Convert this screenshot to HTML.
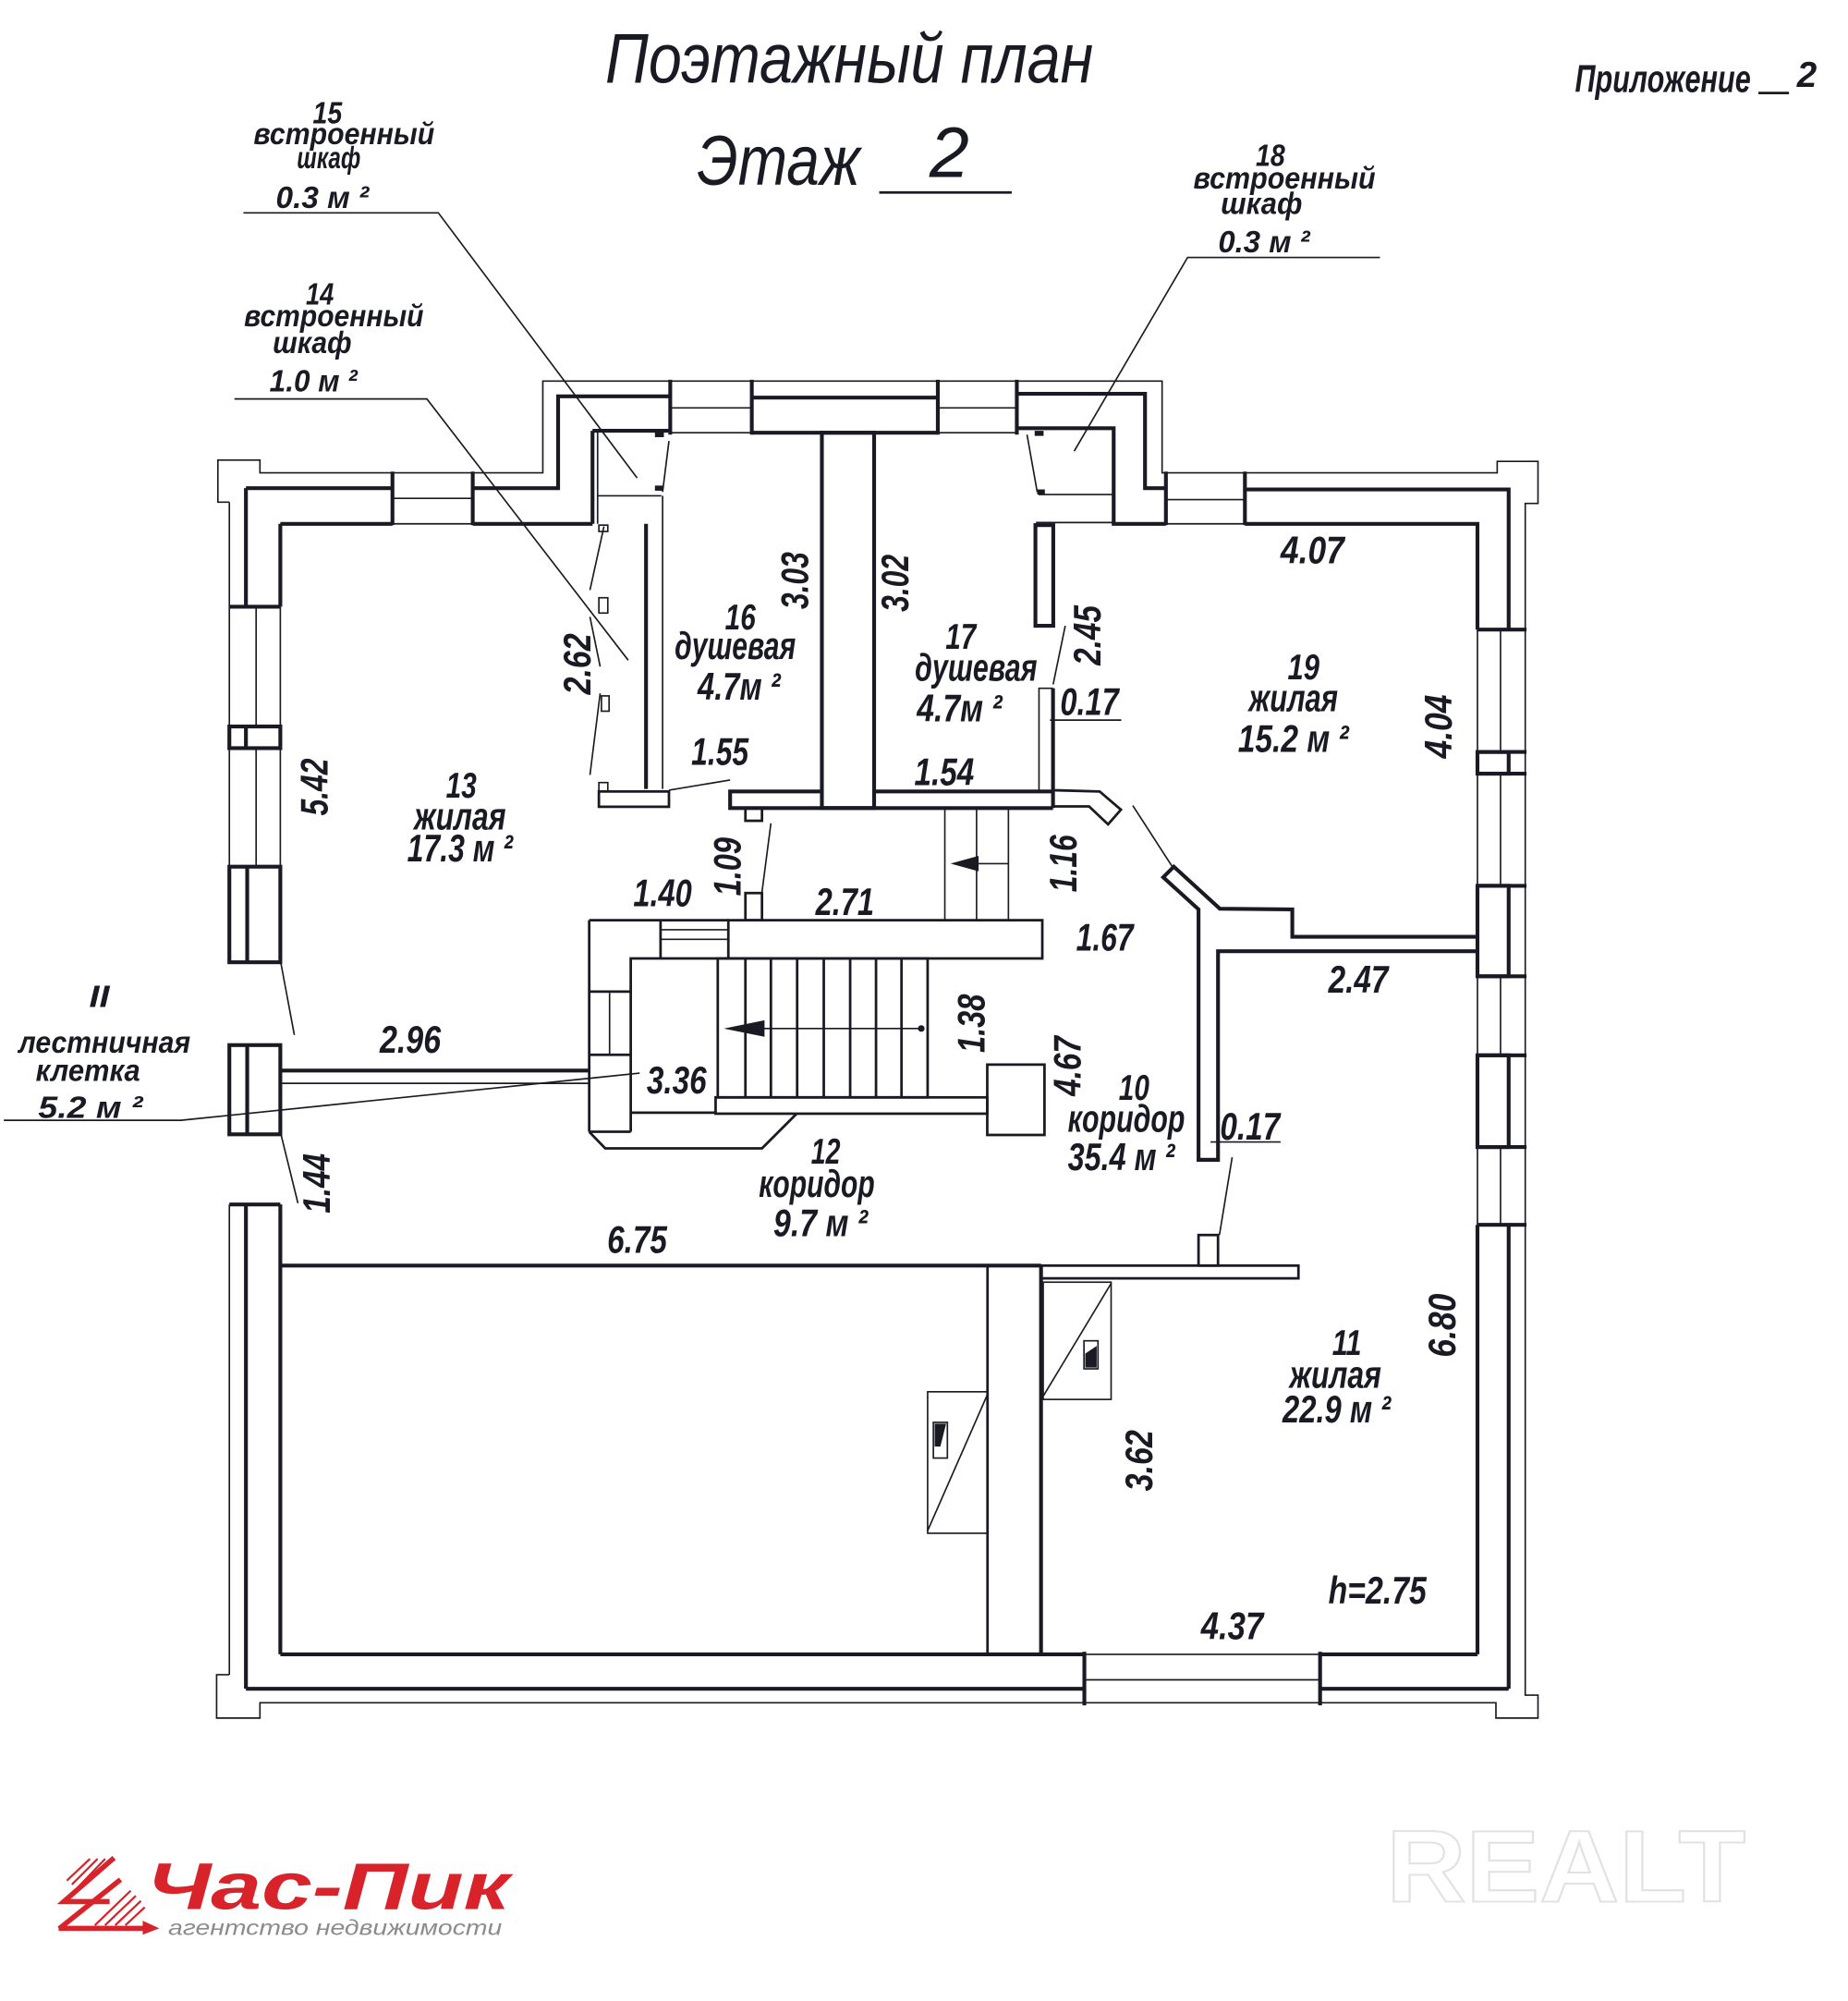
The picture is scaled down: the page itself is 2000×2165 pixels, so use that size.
<!DOCTYPE html>
<html><head><meta charset="utf-8">
<style>
html,body{margin:0;padding:0;background:#fff;}
svg{display:block;}
text{font-family:"Liberation Sans","DejaVu Sans",sans-serif;font-style:italic;fill:#1a1a24;}
.k{stroke:#1a1a24;stroke-width:3;fill:none;}
.t{stroke:#1a1a24;stroke-width:1.2;fill:none;}
.m{stroke:#1a1a24;stroke-width:2;fill:none;}
.b{font-weight:bold;}
.d{font-weight:bold;font-size:30px;}
.n{font-weight:bold;font-size:28px;}
.l{font-weight:bold;font-size:24px;}
</style></head><body>
<svg width="2000" height="2165" viewBox="0 0 1450.3 1570" preserveAspectRatio="none">
<rect x="0" y="0" width="1450.3" height="1570" fill="#fff"/>

<!-- ===== TITLE ===== -->
<text x="475" y="65" font-size="55" textLength="383" lengthAdjust="spacingAndGlyphs">Поэтажный план</text>
<text x="547" y="145" font-size="55" textLength="128" lengthAdjust="spacingAndGlyphs">Этаж</text>
<text x="745" y="139" font-size="56" text-anchor="middle">2</text>
<line x1="690" y1="151" x2="794" y2="151" stroke="#1a1a24" stroke-width="2"/>
<text x="1236" y="72" font-size="30" class="b" textLength="138" lengthAdjust="spacingAndGlyphs">Приложение</text>
<line x1="1380" y1="73" x2="1404" y2="73" stroke="#1a1a24" stroke-width="2"/>
<text x="1418" y="68" font-size="28" class="b" text-anchor="middle">2</text>

<!-- ===== CALLOUT LABELS ===== -->
<g>
<text x="257" y="97" class="l" text-anchor="middle" textLength="23" lengthAdjust="spacingAndGlyphs">15</text>
<text x="270" y="113" class="l" text-anchor="middle" textLength="142" lengthAdjust="spacingAndGlyphs">встроенный</text>
<text x="258" y="132" class="l" text-anchor="middle" textLength="50" lengthAdjust="spacingAndGlyphs">шкаф</text>
<text x="253" y="163" class="l" text-anchor="middle" textLength="73" lengthAdjust="spacingAndGlyphs">0.3 м ²</text>

<text x="251" y="239" class="l" text-anchor="middle" textLength="22" lengthAdjust="spacingAndGlyphs">14</text>
<text x="262" y="256" class="l" text-anchor="middle" textLength="141" lengthAdjust="spacingAndGlyphs">встроенный</text>
<text x="245" y="277" class="l" text-anchor="middle" textLength="62" lengthAdjust="spacingAndGlyphs">шкаф</text>
<text x="246" y="307" class="l" text-anchor="middle" textLength="69" lengthAdjust="spacingAndGlyphs">1.0 м ²</text>

<text x="997" y="130" class="l" text-anchor="middle" textLength="23" lengthAdjust="spacingAndGlyphs">18</text>
<text x="1008" y="148" class="l" text-anchor="middle" textLength="143" lengthAdjust="spacingAndGlyphs">встроенный</text>
<text x="990" y="168" class="l" text-anchor="middle" textLength="64" lengthAdjust="spacingAndGlyphs">шкаф</text>
<text x="992" y="198" class="l" text-anchor="middle" textLength="72" lengthAdjust="spacingAndGlyphs">0.3 м ²</text>

<text x="78" y="790" class="l" text-anchor="middle" textLength="16" lengthAdjust="spacingAndGlyphs">II</text>
<text x="82" y="826" class="l" text-anchor="middle" textLength="135" lengthAdjust="spacingAndGlyphs">лестничная</text>
<text x="69" y="848" class="l" text-anchor="middle" textLength="82" lengthAdjust="spacingAndGlyphs">клетка</text>
<text x="71" y="877" class="l" text-anchor="middle" textLength="82" lengthAdjust="spacingAndGlyphs">5.2   м ²</text>
</g>

<!-- leaders -->
<polyline class="t" points="191,167 344,167 500,375"/>
<polyline class="t" points="184,313 335,313 493,518"/>
<polyline class="t" points="1083,202 932,202 843,354"/>
<polyline class="t" points="3,879 142,879 502,842"/>

<!-- ===== OUTER WALLS ===== -->
<polyline class="t" points="180,394 171,394 171,361 204,361 204,371 308,371"/>
<polyline class="t" points="308,371 426,371 426,299 912,299 912,371 1175,371 1175,362 1207,362 1207,395 1197,395 1197,1330 1207,1330 1207,1348 1174,1348 1174,1336 204,1336 204,1348 170,1348 170,1314 180,1314"/>
<line class="t" x1="180" y1="394" x2="180" y2="755"/>
<line class="t" x1="180" y1="820" x2="180" y2="890"/>
<line class="t" x1="180" y1="945" x2="180" y2="1314"/>

<!-- top-left wall -->
<line class="k" x1="193" y1="383" x2="308" y2="383"/>
<line class="k" x1="220" y1="411" x2="308" y2="411"/>
<line class="k" x1="308" y1="370" x2="308" y2="412"/>
<line class="k" x1="371" y1="370" x2="371" y2="412"/>
<line class="t" x1="308" y1="391" x2="371" y2="391"/>
<line class="t" x1="308" y1="411" x2="371" y2="411"/>
<polyline class="k" points="371,383 438,383 438,311 526,311"/>
<line class="k" x1="371" y1="411" x2="465" y2="411"/>
<line class="k" x1="465" y1="338" x2="465" y2="411"/>
<line class="t" x1="469" y1="338" x2="469" y2="411"/>
<line class="k" x1="465" y1="338" x2="526" y2="338"/>
<line class="t" x1="469" y1="389" x2="519" y2="389"/>
<line class="t" x1="525" y1="346" x2="520" y2="386"/>
<rect x="514" y="339" width="7" height="4" fill="#1a1a24"/>
<rect x="514" y="381" width="6" height="4" fill="#1a1a24"/>

<!-- top projection windows / wall -->
<line class="k" x1="526" y1="298" x2="526" y2="341"/>
<line class="k" x1="590" y1="298" x2="590" y2="341"/>
<line class="t" x1="526" y1="320" x2="590" y2="320"/>
<line class="t" x1="526" y1="339.5" x2="590" y2="339.5"/>
<line class="k" x1="590" y1="312" x2="736" y2="312"/>
<line class="k" x1="590" y1="339.5" x2="736" y2="339.5"/>
<line class="k" x1="736" y1="298" x2="736" y2="341"/>
<line class="k" x1="798" y1="298" x2="798" y2="341"/>
<line class="t" x1="736" y1="320" x2="798" y2="320"/>
<line class="t" x1="736" y1="339.5" x2="798" y2="339.5"/>
<polyline class="k" points="798,309 898.6,309 898.6,383 915,383"/>
<polyline class="k" points="798,336 874,336 874,411 915,411"/>
<line class="t" x1="815" y1="388" x2="874" y2="388"/>
<line class="t" x1="813" y1="410" x2="874" y2="410"/>
<line class="t" x1="806" y1="341" x2="814" y2="386"/>
<rect x="812" y="338" width="7" height="4" fill="#1a1a24"/>
<rect x="814" y="384" width="6" height="4" fill="#1a1a24"/>

<!-- top-right window -->
<line class="k" x1="915" y1="370" x2="915" y2="412"/>
<line class="k" x1="977" y1="370" x2="977" y2="412"/>
<line class="t" x1="915" y1="392" x2="977" y2="392"/>
<line class="t" x1="915" y1="411" x2="977" y2="411"/>
<polyline class="k" points="977,384 1184,384 1184,494"/>
<polyline class="k" points="977,411 1159.5,411 1159.5,494"/>

<!-- right wall -->
<line class="t" x1="1159.5" y1="494" x2="1159.5" y2="590"/>
<line class="t" x1="1177.6" y1="494" x2="1177.6" y2="590"/>
<rect class="k" x="1159.5" y="590" width="24.5" height="17"/>
<line class="t" x1="1159.5" y1="607" x2="1159.5" y2="695"/>
<line class="t" x1="1177.6" y1="607" x2="1177.6" y2="695"/>
<rect class="k" x="1159.5" y="695" width="24.5" height="71"/>
<line class="t" x1="1159.5" y1="766" x2="1159.5" y2="828"/>
<line class="t" x1="1177.6" y1="766" x2="1177.6" y2="828"/>
<rect class="k" x="1159.5" y="828" width="24.5" height="72"/>
<line class="t" x1="1159.5" y1="900" x2="1159.5" y2="961"/>
<line class="t" x1="1177.6" y1="900" x2="1177.6" y2="961"/>
<line class="k" x1="1159.5" y1="961" x2="1159.5" y2="1298"/>
<line class="k" x1="1184" y1="961" x2="1184" y2="1325"/>
<g class="k">
<line x1="1159.5" y1="494" x2="1198" y2="494"/>
<line x1="1159.5" y1="590" x2="1198" y2="590"/>
<line x1="1159.5" y1="607" x2="1198" y2="607"/>
<line x1="1159.5" y1="695" x2="1198" y2="695"/>
<line x1="1159.5" y1="766" x2="1198" y2="766"/>
<line x1="1159.5" y1="828" x2="1198" y2="828"/>
<line x1="1159.5" y1="900" x2="1198" y2="900"/>
<line x1="1159.5" y1="961" x2="1198" y2="961"/>
</g>

<!-- left wall -->
<line class="k" x1="193" y1="383" x2="193" y2="476"/>
<line class="k" x1="220" y1="411" x2="220" y2="476"/>
<line class="t" x1="201" y1="476" x2="201" y2="570"/>
<line class="t" x1="220" y1="476" x2="220" y2="570"/>
<rect class="k" x="180" y="570" width="40" height="17"/>
<line class="k" x1="193" y1="570" x2="193" y2="587"/>
<line class="t" x1="201" y1="587" x2="201" y2="680"/>
<line class="t" x1="220" y1="587" x2="220" y2="680"/>
<rect class="k" x="180" y="680" width="40" height="75"/>
<line class="k" x1="194" y1="680" x2="194" y2="755"/>
<rect class="k" x="180" y="820" width="40" height="70"/>
<line class="k" x1="194" y1="820" x2="194" y2="890"/>
<line class="k" x1="180" y1="476" x2="220" y2="476"/>
<line class="k" x1="180" y1="945" x2="220" y2="945"/>
<line class="k" x1="193" y1="945" x2="193" y2="1325"/>
<line class="k" x1="220" y1="945" x2="220" y2="1298"/>
<line class="t" x1="220.5" y1="756" x2="231" y2="812"/>
<line class="t" x1="220.5" y1="890" x2="233.8" y2="944"/>

<!-- bottom wall -->
<line class="k" x1="220" y1="1298" x2="851" y2="1298"/>
<line class="k" x1="1036" y1="1298" x2="1159.5" y2="1298"/>
<line class="k" x1="193" y1="1325" x2="851" y2="1325"/>
<line class="k" x1="1036" y1="1325" x2="1184" y2="1325"/>
<line class="t" x1="851" y1="1298" x2="1036" y2="1298"/>
<line class="t" x1="851" y1="1318" x2="1036" y2="1318"/>
<line class="k" x1="851" y1="1296" x2="851" y2="1338"/>
<line class="k" x1="1036" y1="1296" x2="1036" y2="1338"/>

<!-- ===== INTERIOR ===== -->
<line class="k" x1="507" y1="411" x2="507" y2="619"/>
<line class="t" x1="520" y1="389" x2="520" y2="619"/>
<rect class="m" x="470" y="621" width="55" height="12"/>
<rect class="t" x="470" y="614" width="7" height="7"/>
<line class="t" x1="474" y1="413" x2="463" y2="463"/>
<line class="t" x1="463" y1="484" x2="471" y2="523"/>
<line class="t" x1="471" y1="544" x2="463" y2="608"/>
<rect class="t" x="470" y="469" width="7" height="12"/>
<rect class="t" x="472" y="546" width="6" height="12"/>
<rect class="t" x="470" y="412" width="7" height="5"/>
<line class="t" x1="525" y1="620" x2="573" y2="612"/>

<rect class="k" x="645" y="339.5" width="41" height="294.5"/>
<polyline class="k" points="645,621 573,621 573,634 826.4,634"/>
<line class="k" x1="686" y1="621" x2="826.4" y2="621"/>

<rect class="k" x="812.6" y="412" width="14" height="79"/>
<polyline class="t" points="815.4,621 815.4,540 826.4,540"/>
<line class="k" x1="826.4" y1="540" x2="826.4" y2="634"/>
<line class="t" x1="836" y1="491" x2="826.5" y2="537"/>
<line class="t" x1="824" y1="565" x2="880" y2="565"/>
<polyline class="m" points="826.4,620 863,621 879.7,635.3 869.6,646.8 854.7,632.7 826.4,632.7"/>
<line class="t" x1="889" y1="632" x2="920" y2="680"/>

<polyline class="k" points="1159.5,735 1014.2,735 1014.2,713.5 957.3,713 921.2,680 912.9,688.3 940.6,713.5 940.6,910 955.9,910 955.9,746.3 1159.5,746.3"/>
<line class="t" x1="950" y1="896" x2="1005" y2="896"/>
<line class="t" x1="967" y1="908" x2="957" y2="969"/>
<rect class="m" x="940.6" y="969" width="15.3" height="24"/>

<rect class="m" x="817" y="993" width="202" height="10"/>
<line class="k" x1="220" y1="993" x2="817" y2="993"/>
<line class="m" x1="775" y1="993" x2="775" y2="1298"/>
<line class="k" x1="817" y1="993" x2="817" y2="1298"/>

<rect class="t" x="728" y="1092" width="47" height="111"/>
<line class="t" x1="775" y1="1094" x2="728" y2="1201"/>
<rect class="t" x="732.5" y="1116" width="11" height="28"/>
<polygon points="733.5,1117 742.5,1117 738,1135 733.5,1135" fill="#1a1a24"/>
<rect class="t" x="818.7" y="1006" width="53.3" height="92"/>
<line class="t" x1="872" y1="1007" x2="819" y2="1095"/>
<rect class="t" x="850.7" y="1052" width="11" height="22"/>
<polygon points="851.7,1062 860.7,1056 860.7,1073 851.7,1073" fill="#1a1a24"/>

<line class="t" x1="741.5" y1="634" x2="741.5" y2="722"/>
<line class="t" x1="766.4" y1="634" x2="766.4" y2="722"/>
<line class="t" x1="791.4" y1="634" x2="791.4" y2="722"/>
<line class="t" x1="768" y1="677.6" x2="791.4" y2="677.6"/>
<polygon points="746,677.6 768,671.5 768,683.7" fill="#1a1a24"/>

<rect class="m" x="585" y="634" width="13" height="10"/>
<rect class="m" x="585" y="700.7" width="13" height="21.3"/>
<line class="t" x1="605" y1="646" x2="598" y2="700"/>

<rect class="m" x="571.6" y="722" width="246.4" height="30"/>
<line class="m" x1="462.4" y1="722" x2="571.6" y2="722"/>
<line class="m" x1="462.4" y1="722" x2="462.4" y2="888"/>
<line class="m" x1="518.4" y1="722" x2="518.4" y2="752"/>
<line class="t" x1="518.4" y1="729.5" x2="571.6" y2="729.5"/>
<line class="t" x1="518.4" y1="737" x2="571.6" y2="737"/>
<polyline class="m" points="571.6,752 495,752 495,888"/>
<line class="m" x1="462.4" y1="778" x2="495" y2="778"/>
<line class="t" x1="478.4" y1="779" x2="478.4" y2="827"/>
<line class="m" x1="462.4" y1="827.6" x2="495" y2="827.6"/>
<line class="m" x1="462.4" y1="888" x2="495" y2="888"/>
<polyline class="m" points="462.4,888 475,901 598,901 625,874"/>
<line class="m" x1="495" y1="873" x2="561.6" y2="873"/>
<line class="k" x1="220" y1="840" x2="462.4" y2="840"/>
<line class="t" x1="220" y1="850" x2="462.4" y2="850"/>

<rect class="m" x="563.3" y="752" width="164.7" height="109"/>
<g class="m">
<line x1="585" y1="752" x2="585" y2="861"/>
<line x1="605" y1="752" x2="605" y2="861"/>
<line x1="625.6" y1="752" x2="625.6" y2="861"/>
<line x1="646.5" y1="752" x2="646.5" y2="861"/>
<line x1="667.2" y1="752" x2="667.2" y2="861"/>
<line x1="687.5" y1="752" x2="687.5" y2="861"/>
<line x1="707.5" y1="752" x2="707.5" y2="861"/>
</g>
<line class="t" x1="590" y1="807" x2="723" y2="807"/>
<circle cx="723" cy="807" r="2.6" fill="#1a1a24"/>
<polygon points="568,807 600,800.5 600,813.5" fill="#1a1a24"/>
<rect class="m" x="561.6" y="861" width="213.2" height="12.8"/>
<rect class="m" x="774.8" y="835.3" width="44.9" height="55.2"/>

<!-- ===== ROOM TEXT ===== -->
<g>
<text x="362" y="626" class="n" text-anchor="middle" textLength="24" lengthAdjust="spacingAndGlyphs">13</text>
<text x="361" y="651" class="d" text-anchor="middle" textLength="72" lengthAdjust="spacingAndGlyphs">жилая</text>
<text x="361" y="676" class="d" text-anchor="middle" textLength="83" lengthAdjust="spacingAndGlyphs">17.3 м ²</text>

<text x="581" y="494" class="n" text-anchor="middle" textLength="24" lengthAdjust="spacingAndGlyphs">16</text>
<text x="577" y="517" class="d" text-anchor="middle" textLength="95" lengthAdjust="spacingAndGlyphs">душевая</text>
<text x="580" y="549" class="d" text-anchor="middle" textLength="65" lengthAdjust="spacingAndGlyphs">4.7м ²</text>

<text x="754" y="509" class="n" text-anchor="middle" textLength="24" lengthAdjust="spacingAndGlyphs">17</text>
<text x="766" y="534" class="d" text-anchor="middle" textLength="96" lengthAdjust="spacingAndGlyphs">душевая</text>
<text x="753" y="566" class="d" text-anchor="middle" textLength="67" lengthAdjust="spacingAndGlyphs">4.7м ²</text>
<text x="741" y="616" class="d" text-anchor="middle" textLength="47" lengthAdjust="spacingAndGlyphs">1.54</text>
<text x="565" y="600" class="d" text-anchor="middle" textLength="45" lengthAdjust="spacingAndGlyphs">1.55</text>

<text x="1030" y="442" class="d" text-anchor="middle" textLength="50" lengthAdjust="spacingAndGlyphs">4.07</text>
<text x="1023" y="533" class="n" text-anchor="middle" textLength="25" lengthAdjust="spacingAndGlyphs">19</text>
<text x="1015" y="558" class="d" text-anchor="middle" textLength="70" lengthAdjust="spacingAndGlyphs">жилая</text>
<text x="1015" y="590" class="d" text-anchor="middle" textLength="87" lengthAdjust="spacingAndGlyphs">15.2 м ²</text>
<text x="855" y="561" class="d" text-anchor="middle" textLength="46" lengthAdjust="spacingAndGlyphs">0.17</text>

<text x="520" y="711" class="d" text-anchor="middle" textLength="46" lengthAdjust="spacingAndGlyphs">1.40</text>
<text x="663" y="718" class="d" text-anchor="middle" textLength="46" lengthAdjust="spacingAndGlyphs">2.71</text>
<text x="867" y="746" class="d" text-anchor="middle" textLength="45" lengthAdjust="spacingAndGlyphs">1.67</text>
<text x="531" y="858" class="d" text-anchor="middle" textLength="47" lengthAdjust="spacingAndGlyphs">3.36</text>
<text x="322" y="826" class="d" text-anchor="middle" textLength="48" lengthAdjust="spacingAndGlyphs">2.96</text>

<text x="890" y="863" class="n" text-anchor="middle" textLength="24" lengthAdjust="spacingAndGlyphs">10</text>
<text x="884" y="888" class="d" text-anchor="middle" textLength="92" lengthAdjust="spacingAndGlyphs">коридор</text>
<text x="880" y="918" class="d" text-anchor="middle" textLength="84" lengthAdjust="spacingAndGlyphs">35.4 м ²</text>
<text x="981" y="894" class="d" text-anchor="middle" textLength="47" lengthAdjust="spacingAndGlyphs">0.17</text>
<text x="1066" y="779" class="d" text-anchor="middle" textLength="47" lengthAdjust="spacingAndGlyphs">2.47</text>

<text x="648" y="913" class="n" text-anchor="middle" textLength="23" lengthAdjust="spacingAndGlyphs">12</text>
<text x="641" y="939" class="d" text-anchor="middle" textLength="91" lengthAdjust="spacingAndGlyphs">коридор</text>
<text x="644" y="970" class="d" text-anchor="middle" textLength="74" lengthAdjust="spacingAndGlyphs">9.7 м ²</text>
<text x="500" y="983" class="d" text-anchor="middle" textLength="47" lengthAdjust="spacingAndGlyphs">6.75</text>

<text x="1057" y="1063" class="n" text-anchor="middle" textLength="23" lengthAdjust="spacingAndGlyphs">11</text>
<text x="1048" y="1089" class="d" text-anchor="middle" textLength="72" lengthAdjust="spacingAndGlyphs">жилая</text>
<text x="1049" y="1116" class="d" text-anchor="middle" textLength="85" lengthAdjust="spacingAndGlyphs">22.9 м ²</text>
<text x="967" y="1286" class="d" text-anchor="middle" textLength="49" lengthAdjust="spacingAndGlyphs">4.37</text>
<text x="1081" y="1258" class="d" text-anchor="middle" textLength="77" lengthAdjust="spacingAndGlyphs">h=2.75</text>

<text x="246.5" y="628.2" class="d" text-anchor="middle" textLength="45" lengthAdjust="spacingAndGlyphs" transform="rotate(-90 246.5 617.5)">5.42</text>
<text x="452.5" y="531.7" class="d" text-anchor="middle" textLength="48" lengthAdjust="spacingAndGlyphs" transform="rotate(-90 452.5 521)">2.62</text>
<text x="623.5" y="466.2" class="d" text-anchor="middle" textLength="45" lengthAdjust="spacingAndGlyphs" transform="rotate(-90 623.5 455.5)">3.03</text>
<text x="702" y="468.2" class="d" text-anchor="middle" textLength="45" lengthAdjust="spacingAndGlyphs" transform="rotate(-90 702 457.5)">3.02</text>
<text x="853" y="509.2" class="d" text-anchor="middle" textLength="47" lengthAdjust="spacingAndGlyphs" transform="rotate(-90 853 498.5)">2.45</text>
<text x="1128.5" y="580.7" class="d" text-anchor="middle" textLength="50" lengthAdjust="spacingAndGlyphs" transform="rotate(-90 1128.5 570)">4.04</text>
<text x="834" y="688.2" class="d" text-anchor="middle" textLength="45" lengthAdjust="spacingAndGlyphs" transform="rotate(-90 834 677.5)">1.16</text>
<text x="570.5" y="690.7" class="d" text-anchor="middle" textLength="46" lengthAdjust="spacingAndGlyphs" transform="rotate(-90 570.5 680)">1.09</text>
<text x="762" y="813.7" class="d" text-anchor="middle" textLength="46" lengthAdjust="spacingAndGlyphs" transform="rotate(-90 762 803)">1.38</text>
<text x="837.5" y="847.2" class="d" text-anchor="middle" textLength="47" lengthAdjust="spacingAndGlyphs" transform="rotate(-90 837.5 836.5)">4.67</text>
<text x="248" y="939.2" class="d" text-anchor="middle" textLength="47" lengthAdjust="spacingAndGlyphs" transform="rotate(-90 248 928.5)">1.44</text>
<text x="1131.5" y="1050.7" class="d" text-anchor="middle" textLength="50" lengthAdjust="spacingAndGlyphs" transform="rotate(-90 1131.5 1040)">6.80</text>
<text x="893.5" y="1156.7" class="d" text-anchor="middle" textLength="48" lengthAdjust="spacingAndGlyphs" transform="rotate(-90 893.5 1146)">3.62</text>
</g>

<!-- ===== LOGO ===== -->
<g stroke="#d8232a" fill="none" stroke-linecap="square">
<polyline points="88,1459 50,1492 84,1492" stroke-width="4"/>
<line x1="93" y1="1476" x2="48" y2="1512" stroke-width="4"/>
<line x1="48" y1="1513" x2="116" y2="1513" stroke-width="4"/>
<line x1="70" y1="1459" x2="53" y2="1475" stroke-width="1.6"/>
<line x1="76" y1="1459" x2="57" y2="1478" stroke-width="1.6"/>
<line x1="82" y1="1459" x2="61" y2="1481" stroke-width="1.6"/>
<line x1="75" y1="1510" x2="102" y2="1484" stroke-width="1.6"/>
<line x1="83" y1="1510" x2="106" y2="1488" stroke-width="1.6"/>
<line x1="91" y1="1510" x2="110" y2="1492" stroke-width="1.6"/>
<line x1="99" y1="1510" x2="113" y2="1497" stroke-width="1.6"/>
</g>
<polygon points="112,1507 125,1513 112,1518" fill="#d8232a"/>
<text x="115" y="1498" font-size="52" font-weight="bold" style="fill:#d8232a" textLength="285" lengthAdjust="spacingAndGlyphs">Час-Пик</text>
<text x="132" y="1518" font-size="17" style="fill:#8c8c8c" textLength="262" lengthAdjust="spacingAndGlyphs">агентство недвижимости</text>

<text x="1088" y="1492" font-size="80" font-weight="bold" style="fill:#ffffff;font-style:normal;stroke:#e2e2e2;stroke-width:1.5" textLength="282" lengthAdjust="spacingAndGlyphs">REALT</text>
</svg>
</body></html>
